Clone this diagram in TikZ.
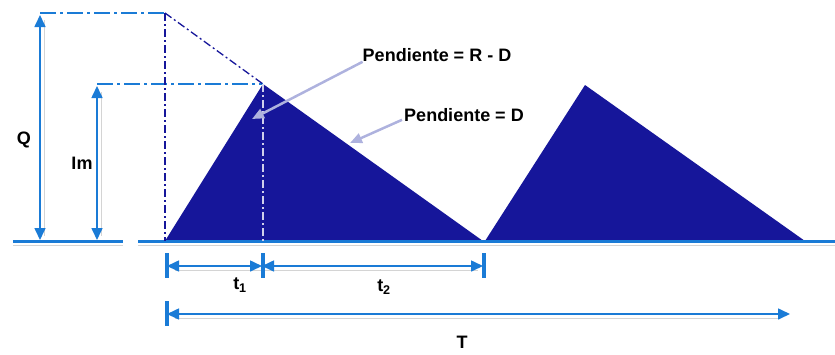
\documentclass[tikz,border=0pt]{standalone}
\usepackage{fontspec}
\setmainfont{Liberation Sans}
\usetikzlibrary{arrows.meta}
\definecolor{navy}{HTML}{16169A}
\definecolor{lineblue}{HTML}{1A7BD6}
\definecolor{callout}{HTML}{AEB2DE}
\definecolor{shadow}{HTML}{D4D4D4}
\tikzset{
  lbl/.style={font=\fontsize{18}{21}\selectfont\bfseries, inner sep=0pt},
  axis/.style={lineblue, line width=3pt},
  dimline/.style={lineblue, line width=1.6pt},
  tips/.style={{Triangle[length=12pt,width=11pt]}-{Triangle[length=12pt,width=11pt]}},
  bar/.style={lineblue, line width=4pt},
  dashdotblue/.style={lineblue, line width=2.6pt, dash pattern=on 16pt off 4pt on 3pt off 4pt},
  dashdotnavy/.style={navy, line width=1.3pt, dash pattern=on 8pt off 3pt on 2pt off 3pt},
  calloutarrow/.style={callout, line width=2.5pt, -{Triangle[length=12pt,width=10pt]}},
  shadowline/.style={shadow, line width=1pt},
}
\begin{document}
\begin{tikzpicture}[x=1pt,y=-1pt]
\useasboundingbox (0,0) rectangle (835,354);
% key points
\coordinate (O1) at (165,241);
\coordinate (P1) at (263,84);
\coordinate (E1) at (483,241);
\coordinate (O2) at (485,241);
\coordinate (P2) at (585,85);
\coordinate (E2) at (805,241);
\coordinate (Qtop) at (165,13);
\coordinate (Qleft) at (40,13);
\coordinate (Imleft) at (97,84);
\coordinate (P1base) at (263,241);
% triangles
\fill[navy] (O1) -- (P1) -- (E1) -- cycle;
\fill[navy] (O2) -- (P2) -- (E2) -- cycle;
% shadows
\draw[shadowline] (13,245) -- (123,245);
\draw[shadowline] (138,245) -- (835,245);
\draw[shadowline] (44,20) -- (44,236);
\draw[shadowline] (101,92) -- (101,236);
\draw[shadowline] (175,270) -- (478,270);
\draw[shadowline] (175,318) -- (780,318);
% baselines
\coordinate (BL1) at (13,241);
\coordinate (BL2) at (123,241);
\coordinate (BR1) at (138,241);
\coordinate (BR2) at (835,241);
\draw[axis] (BL1) -- (BL2);
\draw[axis] (BR1) -- (BR2);
% dash-dot guide lines
\draw[dashdotblue] (Qleft) -- (Qtop);
\draw[dashdotblue] (Imleft) -- (P1);
\draw[dashdotnavy] (Qtop) -- (O1);
\draw[dashdotnavy] (Qtop) -- (P1);
\draw[white!80!navy, line width=1.2pt, dash pattern=on 8pt off 3pt on 2pt off 3pt] (P1) -- (P1base);
% vertical dimension arrows
\coordinate (Qa) at (40,15);
\coordinate (Qb) at (40,240);
\coordinate (Ima) at (97,86);
\coordinate (Imb) at (97,240);
\draw[dimline, tips] (Qa) -- (Qb);
\draw[dimline, tips] (Ima) -- (Imb);
\node[lbl] (Q) at (24,140) {Q};
\node[lbl] (Im) at (82,163) {Im};
% horizontal dimensions
\coordinate (t1a) at (167,266);
\coordinate (t1b) at (262,266);
\coordinate (t2b) at (483,266);
\coordinate (Ta) at (167,314);
\coordinate (Tb) at (790,314);
\draw[bar] (167,253) -- (167,278);
\draw[bar] (263,253) -- (263,278);
\draw[bar] (484,253) -- (484,278);
\draw[bar] (167,301) -- (167,326);
\draw[dimline, tips] (t1a) -- (t1b);
\draw[dimline, tips] (t1b) -- (t2b);
\draw[dimline, tips] (Ta) -- (Tb);
\node[lbl] (t1) at (240,285) {t\textsubscript{1}};
\node[lbl] (t2) at (384,287) {t\textsubscript{2}};
\node[lbl] (T) at (462,342) {T};
% callouts
\node[lbl] (pend1) at (437,55) {Pendiente = R - D};
\node[lbl] (pend2) at (464,115) {Pendiente = D};
\coordinate (c1) at (252,119);
\coordinate (c2) at (350,143);
\draw[calloutarrow] (pend1.south west) ++(0,0) -- (c1);
\draw[calloutarrow] (pend2.south west) ++(-2,-2) -- (c2);
\end{tikzpicture}
\end{document}
